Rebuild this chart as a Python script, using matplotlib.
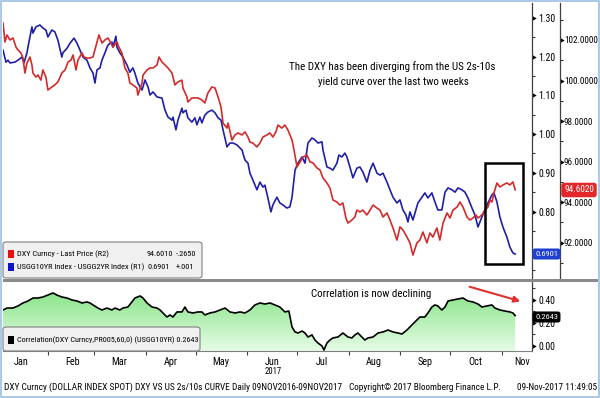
import os
import numpy as np
import pandas as pd
import matplotlib
matplotlib.use("Agg")
import matplotlib.pyplot as plt
from matplotlib import font_manager as fm
from matplotlib.path import Path
from matplotlib.patches import Rectangle, FancyBboxPatch, FancyArrowPatch
from matplotlib.colors import LinearSegmentedColormap
from matplotlib.ticker import FixedLocator, FormatStrFormatter, NullFormatter, FixedFormatter


# Bloomberg screens use a narrow face: take the narrowest regular one that is installed
def pick_font_path():
    files = {os.path.basename(f.fname).lower(): f.fname for f in fm.fontManager.ttflist}
    for name in ("liberationsansnarrow-regular.ttf", "notosans-condensed.ttf",
                 "robotocondensed-regular.ttf", "notosans-semicondensed.ttf",
                 "dejavusanscondensed.ttf", "liberationsans-regular.ttf"):
        if name in files:
            return files[name]
    return fm.findfont("DejaVu Sans")


font_path = pick_font_path()


def fp(size):
    return fm.FontProperties(fname=font_path, size=size)


# ---- data, x = days counted from 1 Jan 2017 ----
# USGG10YR - USGG2YR spread (R1)
spread_day = [4.0, 5.8, 7.0, 8.2, 11.2, 13.0, 15.4, 16.6, 18.4, 19.6,
              21.4, 22.0, 23.8, 26.2, 28.0, 29.8, 31.0, 33.4, 35.2, 37.0,
              39.4, 40.0, 42.5, 44.3, 46.7, 48.5, 50.3, 52.1, 54.5, 56.3,
              58.1, 59.3, 60.5, 62.3, 63.5, 65.3, 67.1, 69.5, 70.1, 71.9,
              72.5, 74.3, 76.1, 78.5, 80.3, 82.1, 83.3, 85.1, 87.6, 89.4,
              91.2, 92.4, 94.2, 96.6, 99.6, 101.4, 103.2, 105.6, 106.2, 108.0,
              109.2, 111.6, 112.2, 114.0, 115.2, 117.6, 119.4, 120.6, 122.4, 123.6,
              125.4, 127.2, 129.6, 131.5, 133.3, 135.1, 136.3, 138.7, 140.5, 142.3,
              144.7, 147.7, 149.5, 151.3, 152.5, 154.3, 156.7, 158.5, 160.3, 161.5,
              163.3, 165.1, 166.3, 168.7, 170.5, 172.3, 174.7, 176.5, 177.8, 179.6,
              181.4, 183.8, 185.6, 187.4, 189.8, 191.6, 193.4, 195.8, 196.4, 198.8,
              200.6, 202.4, 204.8, 206.0, 207.8, 209.6, 210.8, 212.6, 214.4, 216.8,
              218.6, 220.4, 222.8, 224.7, 226.5, 228.9, 230.7, 232.5, 234.9, 236.7,
              238.5, 240.9, 242.7, 244.5, 246.3, 247.5, 248.7, 250.5, 251.7, 253.5,
              255.9, 257.7, 259.5, 261.9, 263.7, 265.5, 267.9, 269.8, 271.6, 274.0,
              275.8, 277.6, 280.0, 281.8, 283.6, 286.0, 287.8, 289.6, 292.0, 293.8,
              295.6, 298.0, 299.2, 301.0, 302.8, 304.6, 307.0, 308.8, 310.6, 312.0]
spread_val = [1.217, 1.186, 1.191, 1.184, 1.186, 1.191, 1.199, 1.184, 1.210, 1.238,
              1.277, 1.261, 1.277, 1.282, 1.274, 1.269, 1.251, 1.269, 1.264, 1.243,
              1.199, 1.210, 1.222, 1.235, 1.248, 1.235, 1.217, 1.199, 1.191, 1.171,
              1.158, 1.132, 1.166, 1.171, 1.191, 1.210, 1.230, 1.238, 1.225, 1.253,
              1.225, 1.210, 1.199, 1.179, 1.160, 1.171, 1.158, 1.132, 1.114, 1.140,
              1.122, 1.101, 1.109, 1.096, 1.093, 1.062, 1.044, 1.036, 1.044, 1.011,
              1.036, 1.067, 1.055, 1.062, 1.042, 1.031, 1.042, 1.024, 1.044, 1.029,
              1.049, 1.057, 1.062, 1.055, 1.042, 1.036, 1.011, 0.967, 0.977, 0.977,
              0.972, 0.959, 0.933, 0.925, 0.899, 0.881, 0.856, 0.876, 0.863, 0.868,
              0.835, 0.799, 0.817, 0.837, 0.822, 0.817, 0.809, 0.812, 0.837, 0.907,
              0.925, 0.941, 0.925, 0.977, 0.990, 0.985, 0.977, 0.980, 0.959, 0.915,
              0.912, 0.907, 0.925, 0.946, 0.941, 0.951, 0.941, 0.915, 0.887, 0.912,
              0.915, 0.902, 0.876, 0.907, 0.925, 0.899, 0.894, 0.899, 0.876, 0.856,
              0.837, 0.822, 0.830, 0.804, 0.791, 0.773, 0.799, 0.778, 0.796, 0.822,
              0.837, 0.848, 0.835, 0.848, 0.825, 0.804, 0.804, 0.850, 0.861, 0.856,
              0.850, 0.861, 0.856, 0.850, 0.835, 0.809, 0.791, 0.760, 0.786, 0.804,
              0.822, 0.843, 0.848, 0.825, 0.786, 0.760, 0.734, 0.708, 0.693, 0.690]

# DXY Curncy last price (R2)
dxy_day = [4.0, 5.2, 6.4, 8.2, 10.0, 11.8, 13.0, 14.8, 16.0, 17.2,
           18.4, 20.2, 21.4, 22.0, 23.8, 25.0, 26.8, 28.0, 29.8, 31.0,
           33.4, 35.2, 37.0, 39.4, 41.3, 43.1, 44.9, 46.1, 47.9, 49.1,
           51.5, 52.7, 54.5, 56.3, 58.1, 60.5, 61.7, 63.5, 65.3, 67.1,
           68.9, 70.1, 72.5, 73.7, 75.5, 77.3, 79.1, 80.3, 82.1, 84.5,
           85.1, 87.6, 88.2, 90.6, 92.4, 94.2, 96.6, 97.8, 99.6, 101.4,
           103.2, 105.6, 107.4, 109.2, 111.6, 112.2, 114.6, 115.2, 117.6, 119.4,
           121.2, 123.6, 125.4, 127.2, 129.6, 131.5, 133.3, 135.1, 136.3, 138.7,
           139.3, 141.7, 143.5, 145.3, 147.7, 149.5, 151.3, 152.5, 154.3, 156.7,
           158.5, 160.3, 162.7, 164.5, 166.3, 168.1, 169.3, 171.7, 173.5, 175.3,
           177.8, 179.0, 180.8, 182.6, 184.4, 186.8, 188.6, 190.4, 192.8, 194.6,
           196.4, 198.8, 200.6, 202.4, 204.8, 206.6, 208.4, 210.2, 211.4, 213.8,
           215.6, 216.8, 218.6, 220.4, 222.8, 224.7, 226.5, 228.9, 230.7, 232.5,
           234.9, 236.7, 238.5, 240.9, 242.7, 244.5, 246.9, 248.7, 250.5, 252.9,
           254.7, 256.5, 258.9, 260.7, 262.5, 264.9, 266.7, 268.6, 271.0, 272.8,
           274.6, 277.0, 278.8, 280.6, 283.0, 284.8, 286.6, 288.4, 289.6, 292.0,
           293.8, 295.6, 296.8, 298.0, 299.2, 301.0, 302.8, 304.6, 307.0, 308.8,
           310.6, 312.0]
dxy_val = [102.84, 101.90, 102.25, 102.00, 102.10, 101.65, 101.51, 101.36, 101.11, 100.37,
           100.86, 101.16, 100.77, 100.37, 100.17, 100.27, 100.02, 100.52, 100.17, 99.53,
           99.68, 99.78, 99.93, 100.37, 100.52, 100.91, 101.01, 101.26, 100.52, 101.01,
           101.36, 101.16, 101.11, 101.11, 101.16, 101.90, 102.25, 101.85, 102.00, 102.10,
           101.85, 101.65, 101.90, 101.65, 101.36, 100.62, 100.37, 99.88, 99.78, 99.63,
           99.28, 99.88, 100.27, 100.52, 100.62, 100.62, 100.77, 101.16, 100.91, 100.77,
           100.62, 100.37, 99.78, 99.93, 100.02, 99.63, 99.19, 98.94, 99.14, 99.14,
           99.14, 99.04, 98.89, 99.38, 99.68, 99.63, 99.19, 98.69, 97.90, 97.65,
           97.90, 97.06, 97.31, 97.41, 97.31, 97.46, 97.21, 96.96, 96.91, 96.72,
           96.91, 97.21, 97.31, 97.41, 97.21, 97.46, 97.80, 97.65, 97.80, 97.56,
           97.06, 96.57, 95.73, 95.98, 96.22, 96.32, 95.98, 95.93, 95.68, 95.58,
           95.19, 94.94, 94.69, 94.10, 94.00, 93.85, 93.95, 93.21, 92.96, 93.11,
           93.26, 93.60, 93.51, 93.60, 93.36, 93.60, 93.85, 93.70, 93.60, 93.26,
           93.46, 93.11, 92.72, 92.12, 92.77, 92.62, 92.27, 91.98, 91.38, 91.98,
           92.12, 92.52, 91.98, 92.47, 92.27, 92.72, 92.12, 92.96, 93.46, 93.21,
           93.60, 93.75, 94.00, 93.75, 93.26, 93.11, 93.21, 93.36, 93.21, 93.36,
           93.60, 93.75, 94.10, 94.00, 94.44, 94.94, 94.74, 94.84, 94.94, 94.84,
           94.99, 94.60]

# 60-day correlation (lower panel)
corr_day = [4.0, 6.4, 10.0, 13.0, 16.0, 19.0, 22.0, 25.0, 28.0, 31.0,
            34.0, 36.4, 39.4, 42.5, 45.5, 48.5, 51.5, 54.5, 56.3, 58.1,
            61.1, 63.5, 66.5, 69.5, 71.3, 74.3, 76.1, 79.1, 81.5, 83.3,
            86.4, 88.2, 90.6, 93.6, 96.6, 98.4, 100.2, 102.6, 104.4, 106.2,
            108.6, 111.6, 113.4, 115.2, 118.2, 121.2, 123.6, 125.4, 128.4, 131.5,
            134.5, 137.5, 140.5, 143.5, 146.5, 149.5, 152.5, 155.5, 158.5, 161.5,
            164.5, 167.5, 170.5, 173.5, 175.9, 177.8, 179.6, 181.4, 183.8, 185.6,
            187.4, 189.8, 191.6, 193.4, 195.8, 197.0, 198.8, 200.6, 202.4, 205.4,
            208.4, 211.4, 213.8, 215.6, 217.4, 219.8, 221.6, 223.5, 226.5, 229.5,
            232.5, 235.5, 238.5, 241.5, 243.9, 246.9, 249.9, 251.7, 254.7, 257.7,
            259.5, 261.9, 263.7, 265.5, 267.9, 269.8, 271.6, 274.6, 277.6, 280.6,
            283.6, 286.6, 289.6, 292.0, 295.0, 298.0, 299.8, 302.8, 305.8, 308.8,
            310.6, 312.0]
corr_val = [0.313, 0.330, 0.330, 0.348, 0.374, 0.391, 0.417, 0.417, 0.426, 0.443,
            0.461, 0.443, 0.426, 0.417, 0.400, 0.391, 0.374, 0.383, 0.374, 0.357,
            0.330, 0.313, 0.330, 0.313, 0.330, 0.313, 0.330, 0.339, 0.383, 0.417,
            0.435, 0.417, 0.374, 0.339, 0.330, 0.313, 0.287, 0.252, 0.270, 0.252,
            0.296, 0.296, 0.339, 0.296, 0.287, 0.296, 0.296, 0.270, 0.287, 0.296,
            0.313, 0.330, 0.296, 0.287, 0.296, 0.287, 0.313, 0.357, 0.374, 0.365,
            0.374, 0.357, 0.339, 0.296, 0.304, 0.165, 0.122, 0.113, 0.130, 0.113,
            0.078, 0.096, 0.052, 0.026, 0.000, -0.035, 0.026, 0.052, 0.070, 0.078,
            0.113, 0.078, 0.070, 0.096, 0.113, 0.078, 0.052, 0.070, 0.078, 0.113,
            0.122, 0.139, 0.122, 0.113, 0.104, 0.139, 0.183, 0.209, 0.252, 0.252,
            0.287, 0.339, 0.357, 0.348, 0.313, 0.339, 0.391, 0.400, 0.409, 0.417,
            0.391, 0.383, 0.365, 0.339, 0.348, 0.357, 0.330, 0.313, 0.304, 0.296,
            0.287, 0.264]

months = ["Jan", "Feb", "Mar", "Apr", "May", "Jun", "Jul", "Aug", "Sep", "Oct", "Nov"]
spread_ticks = [0.80, 0.90, 1.00, 1.10, 1.20, 1.30]
dxy_ticks = [92, 94, 96, 98, 100, 102]
corr_ticks = [0.0, 0.2, 0.4]

RED = "#d42a2a"
BLUE = "#1f1fa8"

W, H = 600, 398


def fx(x):
    return x / W


def fy(y):
    return 1 - y / H


fig = plt.figure(figsize=(6, 3.98), dpi=100)
fig.patch.set_facecolor("white")
renderer = fig.canvas.get_renderer()


def fit_size(s, size, width):
    # shrink a font size so that the string is no wider than in the screenshot
    t = fig.text(0, 0, s, fontproperties=fp(size))
    w = t.get_window_extent(renderer).width
    t.remove()
    return size * min(1.0, width / w)


def put(x, y, s, width, size=7.5, **kw):
    kw.setdefault("va", "center")
    return fig.text(fx(x), fy(y), s, fontproperties=fp(fit_size(s, size, width)), **kw)


ax = fig.add_axes([fx(3), fy(279), fx(532) - fx(3), fy(3) - fy(279)])
ax2 = ax.twinx()
axc = fig.add_axes([fx(3), fy(351), fx(532) - fx(3), fy(281) - fy(351)], sharex=ax)

ax.plot(spread_day, spread_val, color=BLUE, lw=1.2, zorder=3)
ax2.plot(dxy_day, dxy_val, color=RED, lw=1.2, zorder=3)

ax.set_xlim(4.0, 322.1)
ax.set_ylim(0.6256, 1.3388)
ax2.set_ylim(90.198, 103.827)

# move the DXY axis out before styling ticks (moving a spine rebuilds its ticks)
ax2.spines["right"].set_position(("outward", 28 * 72 / 100))

# triangle marker used for the labelled ticks
tri = Path([(0, -1.0), (1.7, 0), (0, 1.0), (0, -1.0)],
           [Path.MOVETO, Path.LINETO, Path.LINETO, Path.CLOSEPOLY])


def right_axis(a, majors, minors, fmt, labelsize, pad=4.5):
    a.yaxis.set_major_locator(FixedLocator(majors))
    a.yaxis.set_minor_locator(FixedLocator(minors))
    a.yaxis.set_major_formatter(FormatStrFormatter(fmt))
    a.tick_params(axis="y", which="major", length=0, pad=pad, labelsize=labelsize,
                  right=True, left=False, labelright=True, labelleft=False)
    a.tick_params(axis="y", which="minor", length=2.5, width=0.8,
                  direction="out", right=True, left=False, color="#333333")
    for t in a.yaxis.get_major_ticks():
        t.tick2line.set_marker(tri)
        t.tick2line.set_markersize(6)
        t.tick2line.set_markeredgewidth(0)
        t.tick2line.set_markerfacecolor("black")
        t.label2.set_fontproperties(fp(labelsize))


tick_size = fit_size("1.30", 8, 17)
right_axis(ax, spread_ticks, [0.65, 0.75, 0.85, 0.95, 1.05, 1.15, 1.25, 1.35], "%.2f", tick_size)
right_axis(ax2, dxy_ticks, [91, 93, 95, 97, 99, 101, 103], "%.4f",
           fit_size("102.0000", 8, 34), pad=2.8)
right_axis(axc, corr_ticks, [0.1, 0.3, 0.5], "%.2f", tick_size)

for a in (ax, ax2, axc):
    for s in ("left", "top", "bottom"):
        a.spines[s].set_visible(False)
    a.spines["right"].set_color("#404040")
    a.spines["right"].set_linewidth(0.9)
    a.set_facecolor("none")
axc.spines["bottom"].set_visible(True)
axc.spines["bottom"].set_color("#808080")

# months on the lower panel
start = pd.Timestamp("2017-01-01")
month_start_days = [(d - start).days for d in pd.date_range("2017-02-01", "2017-11-01", freq="MS")]
label_days = [15] + [d + 15 for d in month_start_days]
label_days[-1] = 316
axc.xaxis.set_major_locator(FixedLocator(month_start_days))
axc.xaxis.set_major_formatter(NullFormatter())
axc.xaxis.set_minor_locator(FixedLocator(label_days))
axc.xaxis.set_minor_formatter(FixedFormatter(months))
axc.tick_params(axis="x", which="major", length=3, direction="out", color="#404040")
month_size = fit_size("Jan", 8, 15)
axc.tick_params(axis="x", which="minor", length=0, pad=4, labelsize=month_size)
for t in axc.xaxis.get_minor_ticks():
    t.label1.set_fontproperties(fp(month_size))
ax.tick_params(axis="x", which="both", bottom=False, labelbottom=False)

# correlation line with a green gradient fill
axc.plot(corr_day, corr_val, color="black", lw=1.2, zorder=3)
fill = axc.fill_between(corr_day, corr_val, -0.0435, color="none", lw=0)
cmap = LinearSegmentedColormap.from_list("corr_fill", ["#e6fce6", "#88e488"])
grad = np.linspace(0, 1, 256).reshape(-1, 1)
im = axc.imshow(grad, cmap=cmap, origin="lower", aspect="auto",
                extent=[corr_day[0], corr_day[-1], -0.0435, 0.47], zorder=1)
im.set_clip_path(fill.get_paths()[0], transform=axc.transData)
axc.set_xlim(4.0, 322.1)
axc.set_ylim(-0.0435, 0.565)

# separator, frame
fig.add_artist(Rectangle((fx(3), fy(281.5)), (598 - 3) / W, 2.5 / H,
                         transform=fig.transFigure, fc="#8a8a8a", ec="none"))
fig.add_artist(Rectangle((1 / W, 1.5 / H), 597.5 / W, 395.5 / H, transform=fig.transFigure,
                         fill=False, ec="#9cc0e0", lw=1.2))

# divergence box
fig.add_artist(Rectangle((fx(485), fy(264)), 38 / W, 101 / H, transform=fig.transFigure,
                         fill=False, ec="black", lw=1.8))

# last-value labels
put(546.5, 254, "0.6901", 23, 8, ha="center", color="white",
    bbox=dict(boxstyle="round,pad=0.3", fc="#1f3fd0", ec="none"))
put(579, 190, "94.6020", 30, 8, ha="center", color="white",
    bbox=dict(boxstyle="round,pad=0.3", fc="#e3262a", ec="none"))
put(546.5, 317, "0.2643", 23, 8, ha="center", color="white",
    bbox=dict(boxstyle="round,pad=0.3", fc="black", ec="none"))

# legends
fig.add_artist(FancyBboxPatch((fx(3), fy(278)), 199 / W, 36 / H,
                              boxstyle="round,pad=0,rounding_size=0.006",
                              transform=fig.transFigure, fc="#f0f0f0", ec="#808080", lw=0.8))
fig.add_artist(Rectangle((fx(8), fy(258)), 6 / W, 8 / H, transform=fig.transFigure, fc="#e81010", ec="none"))
fig.add_artist(Rectangle((fx(8), fy(271)), 6 / W, 8 / H, transform=fig.transFigure, fc="#1010d0", ec="none"))
leg_fp = fp(fit_size("USGG10YR Index - USGG2YR Index (R1)", 8, 128))
fig.text(fx(17), fy(254), "DXY Curncy - Last Price (R2)", va="center", fontproperties=leg_fp)
fig.text(fx(17), fy(267), "USGG10YR Index - USGG2YR Index (R1)", va="center", fontproperties=leg_fp)
fig.text(fx(147), fy(254), "94.6010", va="center", fontproperties=leg_fp)
fig.text(fx(176), fy(254), "-.2650", va="center", fontproperties=leg_fp)
fig.text(fx(147), fy(267), "0.6901", va="center", fontproperties=leg_fp)
fig.text(fx(176), fy(267), "+.001", va="center", fontproperties=leg_fp)

fig.add_artist(FancyBboxPatch((fx(3), fy(351)), 197 / W, 24 / H,
                              boxstyle="round,pad=0,rounding_size=0.006",
                              transform=fig.transFigure, fc="#f0f0f0", ec="#808080", lw=0.8))
fig.add_artist(Rectangle((fx(8), fy(344)), 6 / W, 8 / H, transform=fig.transFigure, fc="black", ec="none"))
put(17, 340, "Correlation(DXY Curncy,PR005,60,0) (USGG10YR) 0.2643", 181, 8)

# annotations
note_fp = fp(fit_size("The DXY has been diverging from the US 2s-10s", 9, 206))
fig.text(fx(392), fy(67), "The DXY has been diverging from the US 2s-10s",
         ha="center", va="center", fontproperties=note_fp)
fig.text(fx(393), fy(82), "yield curve over the last two weeks",
         ha="center", va="center", fontproperties=note_fp)
fig.text(fx(371), fy(294), "Correlation is now declining", ha="center", va="center", fontproperties=note_fp)
fig.add_artist(FancyArrowPatch((fx(467), fy(286)), (fx(523), fy(302)), transform=fig.transFigure,
                               arrowstyle="-|>", mutation_scale=9, lw=1.5, color="#e03030"))

# footer
put(273, 372, "2017", 17, 8, ha="center")
foot_fp = fp(fit_size("DXY Curncy (DOLLAR INDEX SPOT) DXY VS US 2s/10s CURVE", 9, 224))
fig.text(fx(4), fy(387), "DXY Curncy (DOLLAR INDEX SPOT) DXY VS US 2s/10s CURVE", va="center", fontproperties=foot_fp)
fig.text(fx(232), fy(387), "Daily 09NOV2016-09NOV2017", va="center", fontproperties=foot_fp)
fig.text(fx(349), fy(387), "Copyright\u00a9 2017 Bloomberg Finance L.P.", va="center", fontproperties=foot_fp)
fig.text(fx(597), fy(387), "09-Nov-2017 11:49:05", ha="right", va="center", fontproperties=foot_fp)

fig.savefig("out.png", dpi=100)
